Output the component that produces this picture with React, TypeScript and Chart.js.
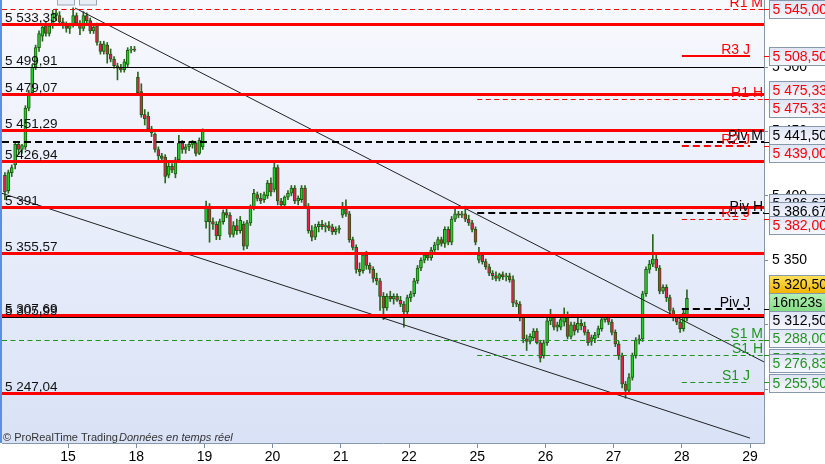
import React, { useEffect, useRef } from 'react';
import { Chart, registerables } from 'chart.js';
Chart.register(...registerables);

// ---- axis data ----
const dayLabels = ['15', '18', '19', '20', '21', '22', '25', '26', '27', '28', '29'];
const yTickValues = [5250, 5300, 5350, 5400, 5450, 5500];
const SLOTS_PER_DAY = 20;

// ---- candles: [open, high, low, close] ----
const day14 = [
  [5416, 5418, 5397, 5403], [5404, 5420, 5402, 5418], [5418, 5424, 5415, 5422], [5424, 5442, 5421, 5440],
  [5440, 5442, 5432, 5436], [5436, 5440, 5433, 5439], [5438, 5470, 5436, 5468], [5468, 5482, 5466, 5480],
  [5480, 5502, 5478, 5500], [5500, 5517, 5498, 5515], [5515, 5528, 5512, 5526], [5524, 5533, 5520, 5531],
  [5532, 5535, 5524, 5526], [5526, 5534, 5524, 5532], [5532, 5544, 5530, 5541], [5540, 5545, 5536, 5542],
  [5540, 5543, 5533, 5535], [5535, 5538, 5530, 5532], [5532, 5535, 5527, 5530],
];
const day15 = [
  [5530, 5534, 5526, 5533], [5533, 5546, 5531, 5540], [5540, 5542, 5532, 5534], [5534, 5536, 5525, 5530],
  [5530, 5543, 5528, 5540], [5540, 5542, 5534, 5536], [5536, 5538, 5526, 5528], [5528, 5533, 5526, 5531],
  [5532, 5534, 5517, 5519], [5518, 5520, 5510, 5512], [5512, 5520, 5510, 5518], [5517, 5519, 5503, 5510],
  [5510, 5514, 5504, 5506], [5506, 5508, 5499, 5501], [5501, 5503, 5490, 5499], [5499, 5502, 5496, 5498],
  [5498, 5506, 5496, 5504], [5502, 5515, 5500, 5513], [5513, 5516, 5511, 5514], [5514, 5516, 5512, 5513],
];
const day18 = [
  [5492, 5496, 5478, 5480], [5481, 5487, 5461, 5463], [5463, 5467, 5455, 5460], [5462, 5465, 5450, 5452],
  [5452, 5454, 5446, 5449], [5448, 5449, 5434, 5436], [5436, 5438, 5428, 5431], [5431, 5433, 5426, 5429],
  [5430, 5432, 5410, 5415], [5416, 5426, 5414, 5423], [5423, 5425, 5418, 5420], [5417, 5430, 5414, 5428],
  [5428, 5447, 5426, 5441], [5441, 5443, 5433, 5436], [5436, 5440, 5433, 5438], [5438, 5442, 5435, 5440],
  [5440, 5443, 5437, 5441], [5441, 5442, 5431, 5433], [5433, 5445, 5432, 5443], [5438, 5452, 5436, 5450],
];
const day19 = [
  [5380, 5396, 5375, 5392], [5392, 5394, 5364, 5380], [5380, 5383, 5374, 5378], [5378, 5380, 5366, 5369],
  [5369, 5382, 5366, 5380], [5380, 5389, 5378, 5387], [5387, 5390, 5383, 5385], [5385, 5387, 5368, 5370],
  [5370, 5380, 5368, 5377], [5377, 5382, 5370, 5373], [5373, 5384, 5371, 5381], [5378, 5380, 5358, 5361],
  [5361, 5381, 5359, 5379], [5379, 5393, 5377, 5391], [5391, 5405, 5389, 5402], [5401, 5403, 5396, 5398],
  [5398, 5402, 5394, 5396], [5397, 5403, 5395, 5401], [5400, 5412, 5398, 5410], [5410, 5414, 5400, 5403],
];
const day20 = [
  [5405, 5426, 5403, 5422], [5422, 5424, 5393, 5396], [5396, 5398, 5390, 5393], [5393, 5400, 5391, 5399],
  [5399, 5404, 5397, 5402], [5402, 5408, 5400, 5406], [5406, 5408, 5394, 5396], [5396, 5400, 5393, 5398],
  [5397, 5408, 5395, 5406], [5406, 5408, 5390, 5392], [5392, 5394, 5371, 5373], [5373, 5377, 5365, 5368],
  [5368, 5378, 5366, 5376], [5376, 5380, 5372, 5378], [5378, 5381, 5374, 5376], [5376, 5379, 5372, 5377],
  [5377, 5380, 5373, 5375], [5376, 5378, 5370, 5372], [5372, 5376, 5370, 5374], [5374, 5377, 5371, 5375],
];
const day21 = [
  [5385, 5395, 5383, 5390], [5390, 5397, 5384, 5386], [5386, 5388, 5364, 5366], [5366, 5368, 5358, 5360],
  [5360, 5362, 5340, 5343], [5343, 5348, 5338, 5341], [5342, 5356, 5340, 5354], [5354, 5357, 5343, 5346],
  [5346, 5348, 5340, 5343], [5343, 5345, 5333, 5336], [5336, 5340, 5331, 5334], [5334, 5336, 5311, 5322],
  [5322, 5325, 5304, 5313], [5313, 5324, 5311, 5322], [5322, 5326, 5318, 5320], [5320, 5324, 5316, 5322],
  [5322, 5324, 5318, 5319], [5319, 5322, 5314, 5316], [5316, 5318, 5298, 5310], [5310, 5323, 5308, 5321],
];
const day22 = [
  [5321, 5326, 5318, 5324], [5324, 5336, 5322, 5334], [5334, 5346, 5332, 5344], [5344, 5352, 5342, 5350],
  [5350, 5356, 5348, 5354], [5354, 5356, 5350, 5352], [5352, 5360, 5350, 5358], [5358, 5364, 5356, 5362],
  [5362, 5368, 5358, 5366], [5366, 5368, 5361, 5363], [5363, 5376, 5360, 5374], [5374, 5376, 5362, 5364],
  [5364, 5384, 5362, 5382], [5382, 5391, 5380, 5386], [5386, 5388, 5383, 5385], [5385, 5388, 5383, 5386],
  [5386, 5392, 5380, 5382], [5382, 5385, 5377, 5379], [5379, 5381, 5372, 5374], [5374, 5376, 5362, 5364],
];
const day25 = [
  [5350, 5360, 5348, 5354], [5354, 5356, 5347, 5349], [5349, 5351, 5343, 5345], [5345, 5347, 5338, 5340],
  [5340, 5342, 5335, 5338], [5338, 5341, 5334, 5336], [5336, 5340, 5334, 5339], [5339, 5341, 5335, 5337],
  [5337, 5340, 5334, 5338], [5338, 5340, 5333, 5335], [5335, 5338, 5314, 5317], [5317, 5319, 5314, 5316],
  [5316, 5318, 5303, 5307], [5307, 5308, 5286, 5289], [5289, 5292, 5280, 5287], [5287, 5293, 5285, 5291],
  [5290, 5297, 5288, 5295], [5295, 5297, 5285, 5286], [5286, 5288, 5271, 5274], [5276, 5288, 5274, 5286],
];
const day26 = [
  [5286, 5306, 5284, 5303], [5303, 5312, 5300, 5306], [5306, 5308, 5296, 5298], [5298, 5302, 5295, 5300],
  [5298, 5306, 5296, 5304], [5302, 5313, 5299, 5308], [5308, 5310, 5289, 5291], [5291, 5302, 5289, 5300],
  [5300, 5302, 5292, 5295], [5296, 5306, 5294, 5301], [5301, 5304, 5296, 5299], [5299, 5302, 5292, 5294],
  [5294, 5296, 5284, 5286], [5287, 5292, 5284, 5290], [5289, 5294, 5286, 5292], [5292, 5299, 5290, 5297],
  [5297, 5306, 5295, 5304], [5304, 5308, 5302, 5306], [5306, 5307, 5300, 5302], [5302, 5304, 5292, 5294],
];
const day27 = [
  [5294, 5296, 5283, 5285], [5285, 5287, 5273, 5276], [5276, 5278, 5251, 5254], [5254, 5256, 5243, 5249],
  [5249, 5262, 5247, 5259], [5259, 5278, 5257, 5276], [5276, 5290, 5274, 5288], [5288, 5292, 5285, 5289],
  [5289, 5326, 5287, 5324], [5324, 5345, 5322, 5343], [5343, 5350, 5340, 5347], [5347, 5370, 5345, 5351],
  [5351, 5354, 5342, 5344], [5344, 5346, 5324, 5326], [5326, 5331, 5324, 5329], [5329, 5331, 5318, 5321],
  [5321, 5323, 5308, 5311], [5311, 5313, 5303, 5306], [5306, 5308, 5300, 5302], [5302, 5304, 5294, 5297],
];
const day28 = [[5297, 5312, 5295, 5309], [5305, 5327, 5303, 5320.5]];

// session index (15 = 0) and candles
const sessionIndex = [-1, 0, 1, 2, 3, 4, 5, 6, 7, 8, 9];
const sessionCandles = [day14, day15, day18, day19, day20, day21, day22, day25, day26, day27, day28];

// ---- horizontal levels ----
const zoneValues = [5533.33, 5479.07, 5451.29, 5426.94, 5391, 5355.57, 5307.69, 5247.04];
const thinValues = [5499.91, 5305.99];
const pivotNames = ['R1 M', 'R3 J', 'R1 H', 'Piv M', 'R2 J', 'Piv H', 'R1 J', 'Piv J', 'S1 M', 'S1 H', 'S1 J'];
const pivotValues = [5545, 5508.5, 5475.33, 5441.5, 5439, 5386.67, 5382, 5312.5, 5288, 5276.83, 5255.5];

// ---- trend lines [x (session units), price] ----
const trendUpper = [[0.103, 5545.8], [10.205, 5271.1]];
const trendLower = [[-0.998, 5402.5], [10.0, 5212.0]];

const timerText = '16m23s';

const XMIN = -0.968, XMAX = 10.205, YMIN = 5208.2, YMAX = 5552.0;
const FONT = '"Liberation Sans", Arial, sans-serif';
const RED = '#ff0000', GREEN = '#1f951f', BLACK = '#000000';

const fmtFr = (v: number, dec: number) => {
  const s = v.toFixed(dec);
  const [i, d] = s.split('.');
  const ii = i.replace(/\B(?=(\d{3})+(?!\d))/g, ' ');
  return d ? ii + ',' + d : ii;
};
const fmtLevel = (v: number) => fmtFr(v, Number.isInteger(v) ? 0 : 2);

const pivotColor = (n: string) => (n.startsWith('R') ? RED : n.startsWith('S') ? GREEN : BLACK);
const pivotStyle = (n: string) => {
  if (n === 'R3 J') return { w: 2, dash: [] as number[] };
  if (n.startsWith('Piv') || n === 'R2 J') return { w: 2, dash: [7, 4] };
  return { w: 1, dash: [5, 3.5] };
};

export default function App() {
  const ref = useRef<HTMLCanvasElement>(null);
  useEffect(() => {
    document.body.style.margin = '0';
    const bodies: any[] = [];
    const wicks: any[] = [];
    const colors: string[] = [];
    sessionCandles.forEach((list, s) => {
      const d = sessionIndex[s];
      const offset = d < 0 ? SLOTS_PER_DAY - list.length : 0;
      list.forEach((c, i) => {
        const t = d + (i + offset + 0.5) / SLOTS_PER_DAY;
        const [o, h, l, cl] = c;
        bodies.push({ x: t, y: [o, cl] });
        wicks.push({ x: t, y: [l, h] });
        colors.push(cl >= o ? '#22d022' : '#e8204c');
      });
    });
    const lastClose = day28[day28.length - 1][3];

    const plugin = {
      id: 'prt',
      beforeDraw(chart: any) {
        const { ctx, chartArea: a, width, height } = chart;
        ctx.save();
        ctx.fillStyle = '#ffffff';
        ctx.fillRect(0, 0, width, height);
        const g = ctx.createLinearGradient(0, a.top, 0, a.bottom);
        g.addColorStop(0, '#f8f9fe');
        g.addColorStop(1, '#d9e2f6');
        ctx.fillStyle = g;
        ctx.fillRect(a.left, a.top, a.right - a.left, a.bottom - a.top);
        ctx.fillStyle = '#5b8fe3';
        ctx.fillRect(0, a.top, a.left, a.bottom - a.top);
        // partially visible toolbar at the top-left
        ctx.strokeStyle = '#9aa6b8';
        ctx.fillStyle = '#e9edf5';
        ctx.fillRect(57.5, -10, 17, 15);
        ctx.strokeRect(57.5, -10, 17, 15);
        ctx.fillRect(79.5, -10, 17, 15);
        ctx.strokeRect(79.5, -10, 17, 15);
        ctx.restore();
      },
      afterDatasetsDraw(chart: any) {
        const { ctx, chartArea: a } = chart;
        const xs = chart.scales.x, ys = chart.scales.y;
        ctx.save();
        ctx.beginPath();
        ctx.rect(a.left, a.top, a.right - a.left, a.bottom - a.top);
        ctx.clip();
        const hline = (x0: number, x1: number, y: number, col: string, w: number, dash: number[]) => {
          const yy = w % 2 === 1 ? Math.round(y) + 0.5 : Math.round(y);
          ctx.beginPath();
          ctx.setLineDash(dash);
          ctx.strokeStyle = col;
          ctx.lineWidth = w;
          ctx.moveTo(x0, yy);
          ctx.lineTo(x1, yy);
          ctx.stroke();
        };
        thinValues.forEach((v) => hline(a.left, a.right, ys.getPixelForValue(v), BLACK, 1, []));
        zoneValues.forEach((v) => hline(a.left, a.right, ys.getPixelForValue(v), RED, 3, []));
        pivotNames.forEach((n, i) => {
          const per = n.slice(-1);
          const st = pivotStyle(n);
          let x0 = a.left, x1 = a.right;
          if (per === 'H') x0 = xs.getPixelForValue(6);
          if (per === 'J') { x0 = xs.getPixelForValue(9); x1 = xs.getPixelForValue(10); }
          hline(x0, x1, ys.getPixelForValue(pivotValues[i]), pivotColor(n), st.w, st.dash);
        });
        ctx.setLineDash([]);
        // labels
        ctx.font = '13.5px ' + FONT;
        ctx.textBaseline = 'alphabetic';
        ctx.textAlign = 'left';
        ctx.fillStyle = '#111';
        [...zoneValues, ...thinValues].forEach((v) => {
          ctx.fillText(fmtLevel(v), 5, ys.getPixelForValue(v) - 2);
        });
        ctx.font = '14px ' + FONT;
        ctx.textAlign = 'right';
        pivotNames.forEach((n, i) => {
          const per = n.slice(-1);
          const xr = per === 'J' ? xs.getPixelForValue(10) : a.right - 1;
          ctx.fillStyle = pivotColor(n);
          ctx.fillText(n, xr, ys.getPixelForValue(pivotValues[i]) - 2);
        });
        ctx.restore();
      },
      afterDraw(chart: any) {
        const { ctx, chartArea: a } = chart;
        const ys = chart.scales.y;
        ctx.save();
        const box = (cy: number, text: string, col: string, kind: string) => {
          const top = Math.round(cy - 9) + 0.5;
          const left = a.right + 5.5;
          const g = ctx.createLinearGradient(0, top, 0, top + 18);
          if (kind === 'price') { g.addColorStop(0, '#ffe25a'); g.addColorStop(1, '#f2b400'); }
          else if (kind === 'timer') { g.addColorStop(0, '#b4f2b4'); g.addColorStop(1, '#84dc84'); }
          else { g.addColorStop(0, '#dfe5f6'); g.addColorStop(1, '#f7f8fd'); }
          ctx.fillStyle = g;
          ctx.fillRect(left, top, 80, 18);
          ctx.strokeStyle = '#8797ac';
          ctx.lineWidth = 1;
          ctx.strokeRect(left, top, 80, 18);
          ctx.fillStyle = col;
          ctx.font = '14px ' + FONT;
          ctx.textAlign = 'left';
          ctx.textBaseline = 'middle';
          ctx.fillText(text, left + 3, top + 9.5);
        };
        const conn = (v: number, col: string) => {
          const y = Math.round(ys.getPixelForValue(v)) + 0.5;
          ctx.beginPath();
          ctx.strokeStyle = col;
          ctx.lineWidth = 1;
          ctx.moveTo(a.right, y);
          ctx.lineTo(a.right + 6, y);
          ctx.stroke();
        };
        pivotNames.forEach((n, i) => conn(pivotValues[i], pivotColor(n)));
        // duplicates partly hidden behind the others
        box(ys.getPixelForValue(pivotValues[5]) - 10, fmtFr(pivotValues[5], 2), BLACK, 'lvl');
        box(ys.getPixelForValue(pivotValues[9]) + 3, fmtFr(pivotValues[9], 2), GREEN, 'lvl');
        const order2 = [0, 1, 2, 2, 3, 4, 5, 6, 7, 8, 9, 10];
        const dys = [0, 0, -9, 9, -7, 7, -2, 5.5, 11, -2, 8, 1];
        order2.forEach((pi, k) => {
          const n = pivotNames[pi];
          box(ys.getPixelForValue(pivotValues[pi]) + dys[k], fmtFr(pivotValues[pi], 2), pivotColor(n), 'lvl');
        });
        const py = ys.getPixelForValue(lastClose);
        box(py - 14, fmtFr(lastClose, 2), BLACK, 'price');
        box(py + 4, timerText, BLACK, 'timer');
        // copyright
        ctx.textAlign = 'left';
        ctx.textBaseline = 'alphabetic';
        ctx.fillStyle = '#333';
        ctx.font = '11px ' + FONT;
        ctx.fillText('\u00A9 ProRealTime Trading', 3, 441);
        ctx.font = 'italic 11px ' + FONT;
        ctx.fillText('Donn\u00e9es en temps r\u00e9el', 119, 441);
        ctx.restore();
      },
    };

    const chart = new Chart(ref.current as HTMLCanvasElement, {
      type: 'bar',
      data: {
        datasets: [
          {
            type: 'line', data: trendUpper.map(([x, y]) => ({ x, y })), borderColor: '#222',
            borderWidth: 1, pointRadius: 0, order: 0,
          } as any,
          {
            type: 'line', data: trendLower.map(([x, y]) => ({ x, y })), borderColor: '#222',
            borderWidth: 1, pointRadius: 0, order: 0,
          } as any,
          {
            type: 'bar', data: bodies, backgroundColor: colors, borderColor: '#1f5a14', borderWidth: 1,
            borderSkipped: false, barThickness: 3, grouped: false, minBarLength: 1, order: 1,
          } as any,
          {
            type: 'bar', data: wicks, backgroundColor: '#2a661c', barThickness: 1, grouped: false, order: 2,
          } as any,
        ],
      },
      options: {
        animation: false,
        responsive: false,
        maintainAspectRatio: false,
        layout: { padding: { left: 2, top: 0, right: 0, bottom: 0 } },
        plugins: { legend: { display: false }, tooltip: { enabled: false } },
        scales: {
          x: {
            type: 'linear', min: XMIN, max: XMAX, offset: false,
            grid: { drawOnChartArea: false, drawTicks: true, tickLength: 5, color: '#7d8da3', offset: false },
            border: { display: true, color: '#8797ac' },
            ticks: {
              font: { family: FONT, size: 14 }, color: '#000', padding: 1, autoSkip: false, maxRotation: 0,
              callback: (v: any) => dayLabels[v as number] ?? '',
            },
            afterBuildTicks: (s: any) => { s.ticks = dayLabels.map((_, i) => ({ value: i })); },
            afterFit: (s: any) => { s.height = 21; s.paddingLeft = 0; s.paddingRight = 0; },
          },
          y: {
            type: 'linear', position: 'right', min: YMIN, max: YMAX,
            grid: { drawOnChartArea: false, drawTicks: true, tickLength: 4, color: '#7d8da3' },
            border: { display: true, color: '#8797ac' },
            ticks: {
              font: { family: FONT, size: 14 }, color: '#000', padding: 4,
              callback: (v: any) => fmtFr(v as number, 0),
            },
            afterBuildTicks: (s: any) => { s.ticks = yTickValues.map((v) => ({ value: v })); },
            afterFit: (s: any) => { s.width = 61; s.paddingTop = 0; s.paddingBottom = 0; },
          },
        },
      } as any,
      plugins: [plugin],
    });
    return () => chart.destroy();
  }, []);
  return (
    <div style={{ width: 825, height: 464, overflow: 'hidden' }}>
      <canvas ref={ref} width={825} height={464} style={{ display: 'block' }} />
    </div>
  );
}
